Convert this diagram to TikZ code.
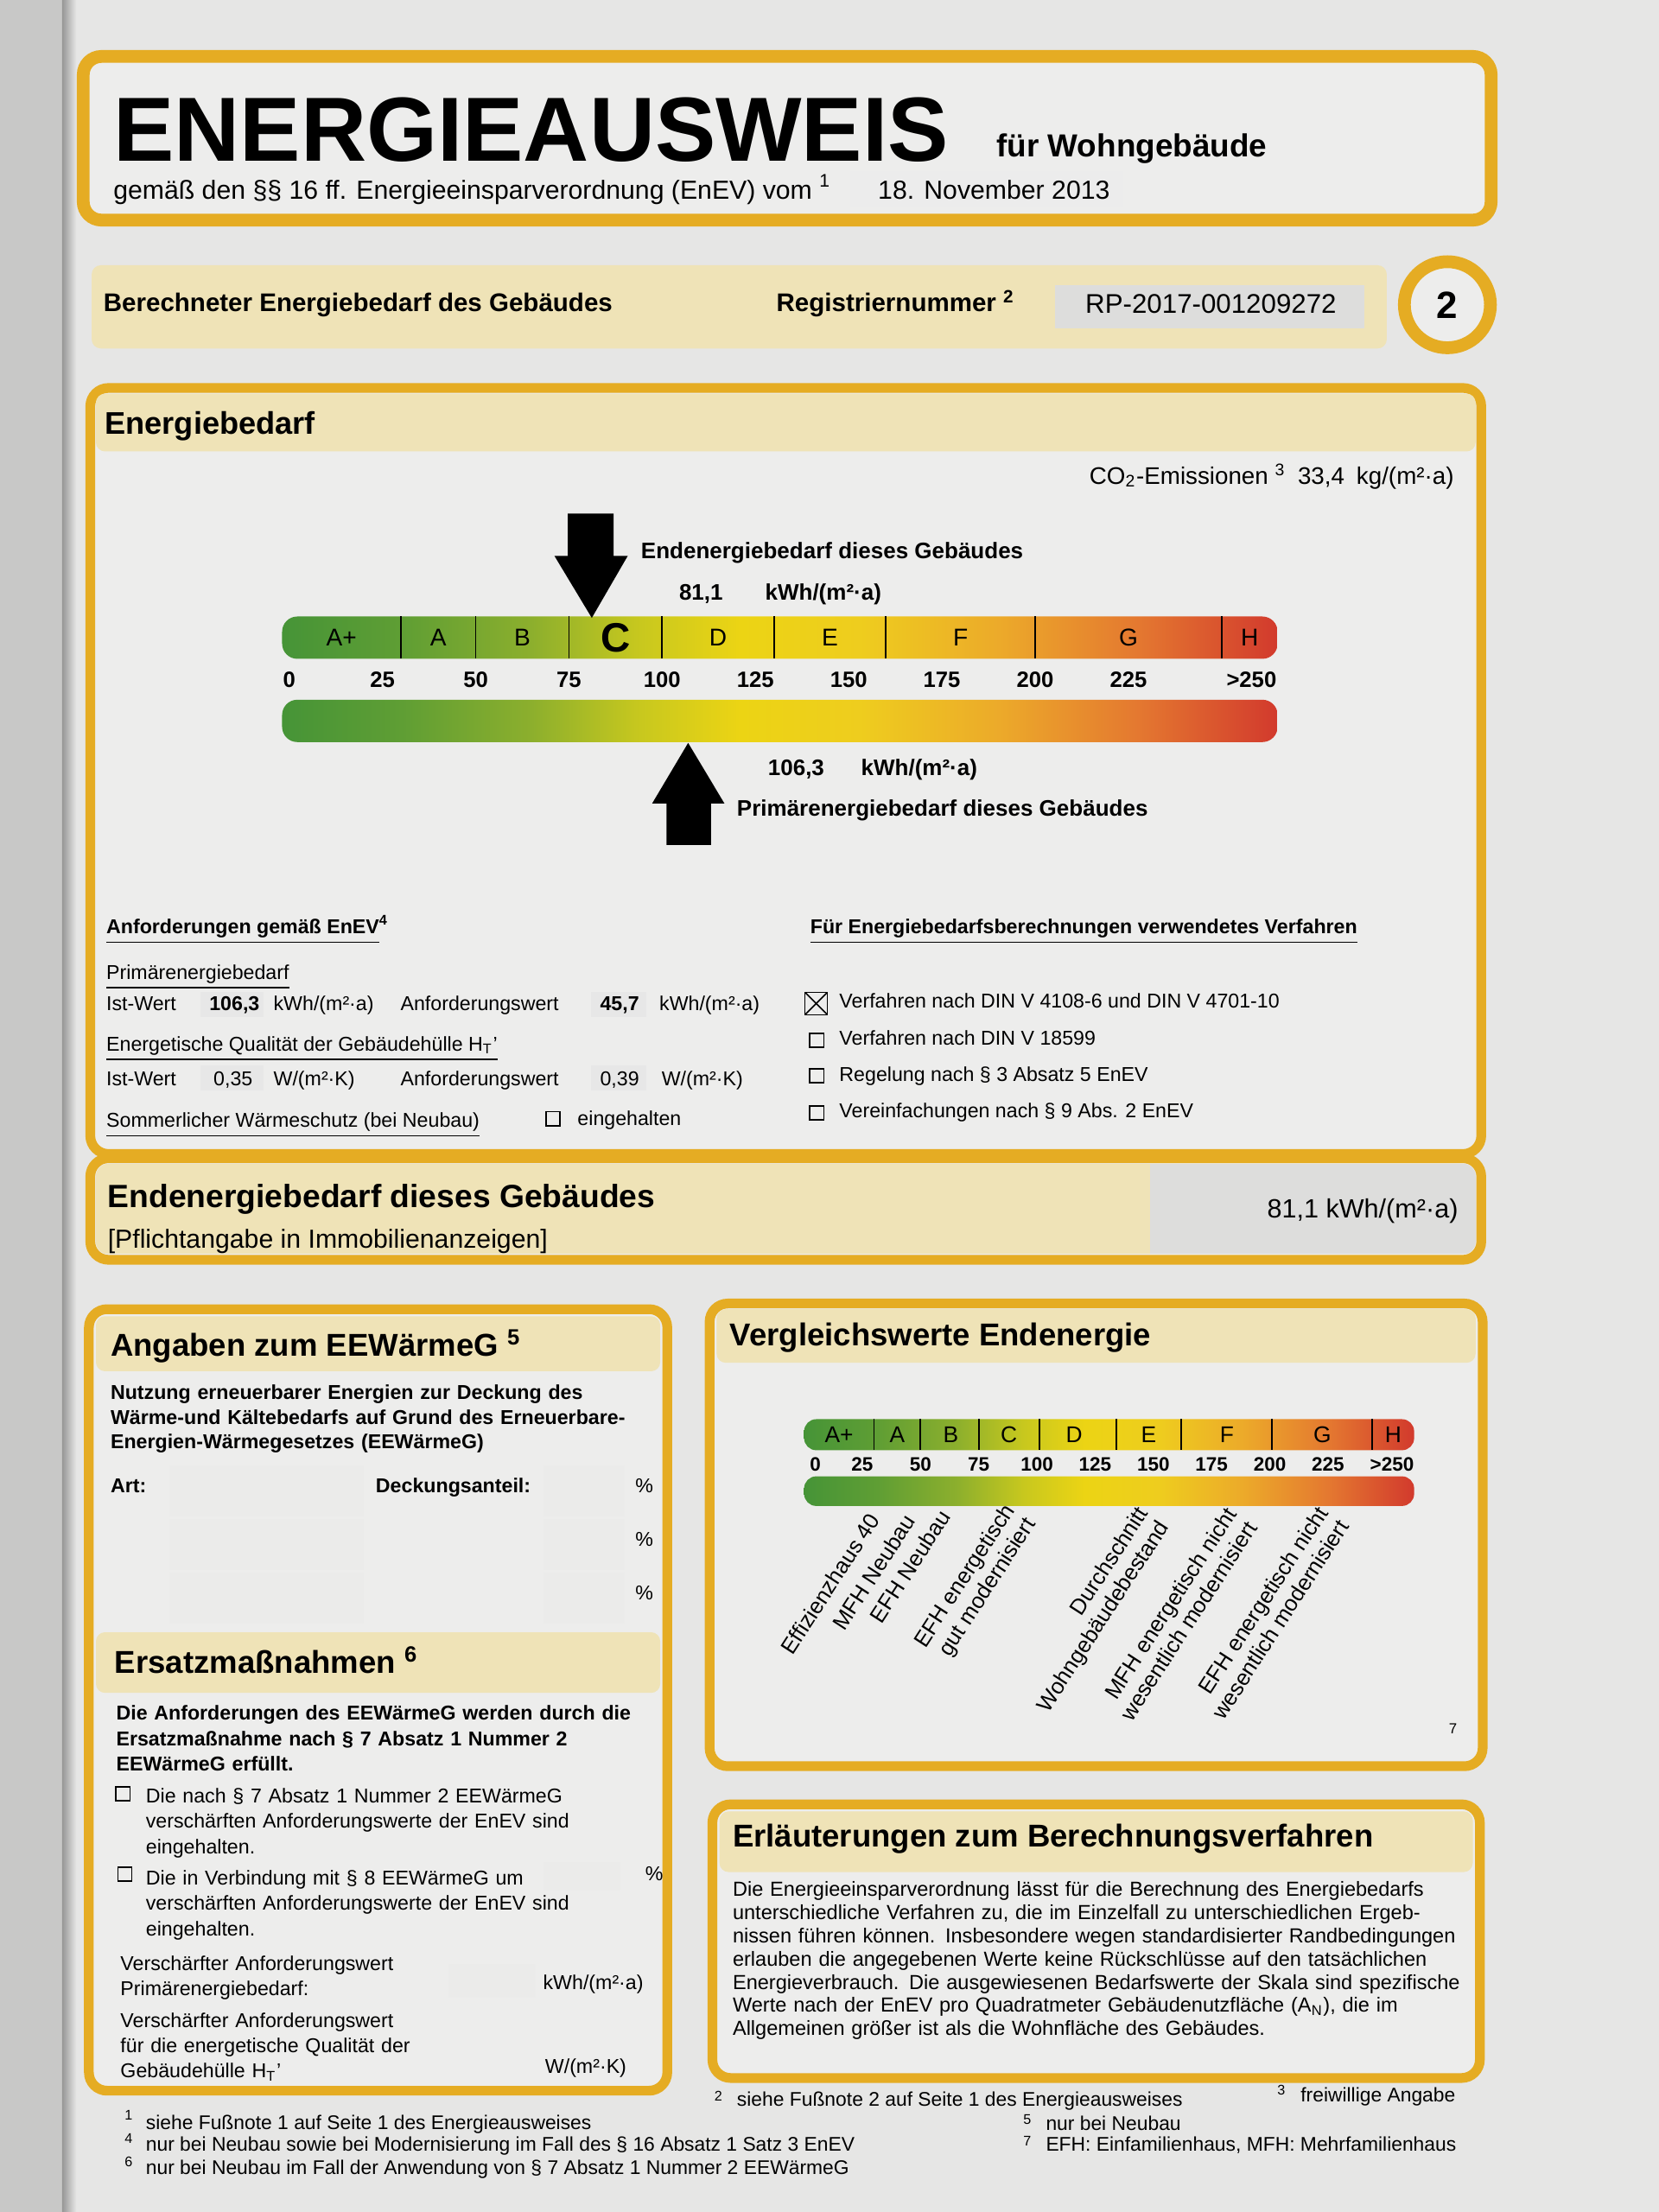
\documentclass[tikz,border=0pt]{standalone}
\usepackage{fontspec}
\setmainfont{Liberation Sans}
\usetikzlibrary{positioning}

\definecolor{enevgold}{RGB}{229,172,35}
\definecolor{enevband}{RGB}{239,227,183}
\definecolor{enevpage}{RGB}{230,230,229}
\definecolor{enevbox}{RGB}{237,237,236}
\definecolor{enevfield}{RGB}{221,221,220}
\definecolor{enevleaf}{RGB}{200,200,199}
\definecolor{scA}{RGB}{70,148,55}
\definecolor{scB}{RGB}{95,158,52}
\definecolor{scC}{RGB}{140,175,45}
\definecolor{scD}{RGB}{200,200,30}
\definecolor{scE}{RGB}{236,212,20}
\definecolor{scF}{RGB}{238,205,30}
\definecolor{scG}{RGB}{236,170,42}
\definecolor{scH}{RGB}{228,120,48}
\definecolor{scI}{RGB}{210,58,45}

\pgfdeclarehorizontalshading{enevscale}{100bp}{color(0bp)=(scA); color(25bp)=(scA);
  color(31bp)=(scB); color(37.5bp)=(scC); color(43bp)=(scD); color(48bp)=(scE);
  color(54bp)=(scF); color(61bp)=(scG); color(68bp)=(scH); color(75bp)=(scI); color(100bp)=(scI)}

\newcommand{\fsz}[2]{\fontsize{#1}{#2}\selectfont}

\tikzset{
  goldframe/.style={draw=enevgold, line width=3.2pt, rounded corners=6pt, fill=enevbox},
  headband/.style={fill=enevband, rounded corners=3pt},
  fieldbox/.style={fill=enevfield},
  txt/.style={inner sep=0pt, anchor=base west, font=\fsz{6.6}{8.2}},
  txtb/.style={txt, font=\bfseries\fsz{6.6}{8.2}},
  boxhead/.style={txt, font=\bfseries\fsz{10.4}{12}},
  chkbox/.style={draw, line width=0.45pt, minimum size=4.6pt, inner sep=0pt},
  crossed/.style={minimum size=7.4pt, path picture={\draw[line width=0.45pt]
    (path picture bounding box.north west) -- (path picture bounding box.south east)
    (path picture bounding box.north east) -- (path picture bounding box.south west);}},
  classlbl/.style={inner sep=0pt, font=\fsz{8}{9}},
  scalenum/.style={inner sep=0pt, anchor=base, font=\bfseries\fsz{7.3}{8}},
  cmplbl/.style={inner sep=0pt, anchor=east, rotate=57, align=right, font=\fsz{7.3}{8.2}},
  fnmark/.style={inner sep=0pt, anchor=base west, font=\fsz{4.6}{5}},
}

\begin{document}
\begin{tikzpicture}[x=0.016327cm, y=-0.016327cm]
\useasboundingbox (0,0) rectangle (1176,1568);
% Seite und Rand der Nachbarseite
\fill[enevpage] (0,0) rectangle (1176,1568);
\fill[enevleaf] (0,0) rectangle (44,1568);
\shade[left color=enevleaf!75!black, right color=enevpage] (44,0) rectangle (54,1568);

% Kopf
\draw[goldframe, line width=4.2pt] (59,40) rectangle (1057,156);
\fill[enevfield!55] (603,121) rectangle (796,147);
\node[txt, font=\bfseries\fsz{30}{31}] (title) at (80,114) {ENERGIEAUSWEIS};
\node[txt, font=\bfseries\fsz{10.5}{12}] (wohn) at (706,111) {für Wohngebäude};
\node[txt, font=\fsz{8.6}{10}] (enev) at (80,141) {gemäß den §§ 16 ff. Energieeinsparverordnung (EnEV) vom \textsuperscript{1}};
\node[txt, font=\fsz{8.6}{10}] (datum) at (622,141) {18. November 2013};

\fill[headband] (65,188) rectangle (983,247);
\fill[fieldbox] (748,202) rectangle (967,233);
\node[txt, font=\bfseries\fsz{8.4}{10}] (berechnet) at (73,221) {Berechneter Energiebedarf des Gebäudes};
\node[txt, font=\bfseries\fsz{8.4}{10}] (regnr) at (550,221) {Registriernummer \textsuperscript{2}};
\node[txt, font=\fsz{8.9}{10}] (regwert) at (769,222) {RP-2017-001209272};
\node[circle, draw=enevgold, line width=4.2pt, fill=enevbox, minimum size=0.996cm,
  inner sep=0pt, font=\bfseries\fsz{12.5}{13}] (seite) at (1026,216) {2};

% Energiebedarf
\draw[goldframe] (64,275) rectangle (1050,818);
\fill[headband] (68,279) rectangle (1046,320);
\node[boxhead, font=\bfseries\fsz{10.3}{12}] (ebhead) at (74,308) {Energiebedarf};
\node[txt, anchor=base east, font=\fsz{7.9}{9}] (co2) at (1031,343)
  {CO\textsubscript{2}-Emissionen \textsuperscript{3}\enspace 33,4\enspace kg/(m²·a)};

\begin{scope}[shift={(205,0)}, x=0.043168cm]
  \shade[shading=enevscale, rounded corners=5pt] (-1.9,437) rectangle (265,467);
  \foreach \v in {30,50,75,100,130,160,200,250}
    \draw[line width=0.5pt] (\v,437) -- (\v,467);
  \foreach \v/\k [count=\i] in {14/A+,40/A,62.5/B,115/D,145/E,180/F,225/G,257.5/H}
    \node[classlbl] (kl\i) at (\v,452) {\k};
  \node[classlbl, font=\bfseries\fsz{13.5}{14}] (klC) at (87.5,452) {C};
  \foreach \v in {0,25,...,225}
    \node[scalenum] (sk\v) at (\v,487) {\v};
  \node[scalenum] (sk250) at (258,487) {>250};
  \shade[shading=enevscale, rounded corners=5pt] (-1.9,496) rectangle (265,526);
\end{scope}

\fill (402.5,364) -- (435,364) -- (435,394) -- (445,394) -- (419.5,438)
  -- (393,394) -- (402.5,394) -- cycle;
\fill (472.5,599) -- (504,599) -- (504,569.5) -- (513.5,569.5) -- (487.8,526.6)
  -- (462.3,569.5) -- (472.5,569.5) -- cycle;
\node[txt, font=\bfseries\fsz{7.4}{9}] (endlbl) at (454,396) {Endenergiebedarf dieses Gebäudes};
\node[txt, font=\bfseries\fsz{7.4}{9}] (endwert) at (481,425.5) {81,1};
\node[txt, font=\bfseries\fsz{7.4}{9}] (endunit) at (542,425.5) {kWh/(m²·a)};
\node[txt, font=\bfseries\fsz{7.4}{9}] (primwert) at (544,550) {106,3};
\node[txt, font=\bfseries\fsz{7.4}{9}] (primunit) at (610,550) {kWh/(m²·a)};
\node[txt, font=\bfseries\fsz{7.4}{9}] (primlbl) at (522,578.5) {Primärenergiebedarf dieses Gebäudes};

% Anforderungen und Verfahren
\node[txtb] (anfhead) at (75,662) {\underline{Anforderungen gemäß EnEV}\textsuperscript{4}};
\node[txtb] (verfhead) at (574,662) {\underline{Für Energiebedarfsberechnungen verwendetes Verfahren}};
\node[txt] (primhead) at (75,694) {\underline{Primärenergiebedarf}};
\fill[enevfield!70] (142,703) rectangle (187,721);
\fill[enevfield!70] (419,703) rectangle (458,721);
\node[txt] (ist1) at (75,716.5) {Ist-Wert};
\node[txtb] (ist1w) at (148,716.5) {106,3};
\node[txt] (ist1e) at (193.5,716.5) {kWh/(m²·a)};
\node[txt] (anf1) at (283.5,716.5) {Anforderungswert};
\node[txtb] (anf1w) at (425,716.5) {45,7};
\node[txt] (anf1e) at (467,716.5) {kWh/(m²·a)};
\node[txt] (hthead) at (75,745) {\underline{Energetische Qualität der Gebäudehülle H\textsubscript{T}'}};
\fill[enevfield!70] (142,755) rectangle (187,773);
\fill[enevfield!70] (419,755) rectangle (458,773);
\node[txt] (ist2) at (75,769.5) {Ist-Wert};
\node[txt] (ist2w) at (151,769.5) {0,35};
\node[txt] (ist2e) at (193.5,769.5) {W/(m²·K)};
\node[txt] (anf2) at (283.5,769.5) {Anforderungswert};
\node[txt] (anf2w) at (425,769.5) {0,39};
\node[txt] (anf2e) at (468.6,769.5) {W/(m²·K)};
\node[txt] (sommer) at (75,799) {\underline{Sommerlicher Wärmeschutz (bei Neubau)}};
\node[chkbox] (cbsommer) at (392,793) {};
\node[txt] (eingeh) at (409,797.5) {eingehalten};
\node[chkbox, crossed] (cbv1) at (578.6,711.3) {};
\node[txt] (verf1) at (594.6,714.5) {Verfahren nach DIN V 4108-6 und DIN V 4701-10};
\node[chkbox] (cbv2) at (579,737.5) {};
\node[txt] (verf2) at (594.6,741) {Verfahren nach DIN V 18599};
\node[chkbox] (cbv3) at (579,762.5) {};
\node[txt] (verf3) at (594.6,766.5) {Regelung nach § 3 Absatz 5 EnEV};
\node[chkbox] (cbv4) at (579,789) {};
\node[txt] (verf4) at (594.6,792) {Vereinfachungen nach § 9 Abs. 2 EnEV};

% Endenergiebedarf
\draw[goldframe] (64,821) rectangle (1050,893);
\begin{scope}
  \clip[rounded corners=4pt] (68,825) rectangle (1046,889);
  \fill[enevband] (68,825) rectangle (815,889);
  \fill[fieldbox] (815,825) rectangle (1046,889);
\end{scope}
\node[txt, font=\bfseries\fsz{10.6}{12}] (endhead) at (76,856) {Endenergiebedarf dieses Gebäudes};
\node[txt, font=\fsz{8.6}{10}] (pflicht) at (76,885) {[Pflichtangabe in Immobilienanzeigen]};
\node[txt, anchor=base east, font=\fsz{8.7}{10}] (endbox) at (1034,863) {81,1 kWh/(m²·a)};

% EEWaermeG
\draw[goldframe] (63,928) rectangle (473,1482);
\fill[headband] (68,933) rectangle (468,972);
\node[boxhead] (eewhead) at (78,961) {Angaben zum EEWärmeG \textsuperscript{5}};
\node[txtb, text width=6.3cm, align=left, font=\bfseries\fsz{6.6}{8.1}] (eewtext) at (78,992)
  {Nutzung erneuerbarer Energien zur Deckung des\\Wärme-und Kältebedarfs auf Grund des Erneuerbare-\\Energien-Wärmegesetzes (EEWärmeG)};
\foreach \y in {1039,1077,1115} {
  \fill[enevfield!60] (120,\y) rectangle (258,\y+36);
  \fill[enevfield!60] (385,\y) rectangle (443,\y+36);
}
\node[txtb] (art) at (78,1058) {Art:};
\node[txtb] (deck) at (266,1058) {Deckungsanteil:};
\foreach \y [count=\i] in {1058,1096,1134}
  \node[txt] (proz\i) at (450,\y) {\%};

\fill[headband] (68,1157) rectangle (468,1200);
\node[boxhead] (ersatzhead) at (81,1186) {Ersatzmaßnahmen \textsuperscript{6}};
\node[txtb, text width=6.3cm, align=left, font=\bfseries\fsz{6.6}{8.5}] (ersatztext) at (82,1219)
  {Die Anforderungen des EEWärmeG werden durch die\\Ersatzmaßnahme nach § 7 Absatz 1 Nummer 2\\EEWärmeG erfüllt.};
\node[chkbox] (cbe1) at (87.2,1271.5) {};
\node[txt, text width=5.9cm, align=left, font=\fsz{6.6}{8.36}] (ersatz1) at (103,1278)
  {Die nach § 7 Absatz 1 Nummer 2 EEWärmeG\\verschärften Anforderungswerte der EnEV sind\\eingehalten.};
\node[chkbox] (cbe2) at (88.5,1328.5) {};
\fill[enevfield!60] (385,1320) rectangle (440,1340);
\node[txt, text width=5.9cm, align=left, font=\fsz{6.6}{8.36}] (ersatz2) at (103,1336)
  {\makebox[4.52cm][s]{Die in Verbindung mit § 8 EEWärmeG um}\\verschärften Anforderungswerte der EnEV sind\\eingehalten.};
\node[txt] (proz4) at (457,1333) {\%};
\fill[enevfield!60] (318,1392) rectangle (380,1416);
\node[txt, text width=5cm, align=left] (vprim) at (85,1397)
  {Verschärfter Anforderungswert\\Primärenergiebedarf:};
\node[txt] (vprime) at (384.6,1410) {kWh/(m²·a)};
\node[txt, text width=5cm, align=left, font=\fsz{6.6}{8.36}] (vht) at (85,1437)
  {Verschärfter Anforderungswert\\für die energetische Qualität der\\Gebäudehülle H\textsubscript{T}'};
\node[txt] (vhte) at (386,1469.5) {W/(m²·K)};

% Vergleichswerte
\draw[goldframe] (503,924) rectangle (1051,1252);
\fill[headband] (508,928) rectangle (1046,966);
\node[boxhead] (vglhead) at (517,954) {Vergleichswerte Endenergie};
\begin{scope}[shift={(570,0)}, x=0.02694cm]
  \shade[shading=enevscale, rounded corners=4pt] (0,1006) rectangle (262,1028);
  \foreach \v in {30,50,75,101,134,162,201,244}
    \draw[line width=0.5pt] (\v,1006) -- (\v,1028);
  \foreach \v/\k [count=\i] in {15/A+,40/A,63/B,88/C,116/D,148/E,181.6/F,222.6/G,253/H}
    \node[classlbl, font=\fsz{7.5}{8}] (vk\i) at (\v,1017) {\k};
  \foreach \v in {25,50,...,225}
    \node[scalenum, font=\bfseries\fsz{6.4}{7}] (vs\v) at (\v,1043) {\v};
  \node[scalenum, font=\bfseries\fsz{6.4}{7}] (vs0) at (4.8,1043) {0};
  \node[scalenum, font=\bfseries\fsz{6.4}{7}] (vs250) at (252.5,1043) {>250};
  \shade[shading=enevscale, rounded corners=4pt] (0,1046.5) rectangle (262,1067.5);
\end{scope}
\foreach \x/\y/\t [count=\i] in {620/1074/{Effizienzhaus 40}, 645/1075/{MFH Neubau},
    670/1072/{EFH Neubau}, 724/1073/{EFH energetisch\\gut modernisiert},
    818.5/1075/{Durchschnitt\\Wohngebäudebestand},
    880/1075/{MFH energetisch nicht\\wesentlich modernisiert},
    945/1074/{EFH energetisch nicht\\wesentlich modernisiert}}
  \node[cmplbl] (vgl\i) at (\x,\y) {\t};
\node[txt, anchor=base, font=\fsz{4.8}{5}] (vglfn) at (1030,1229) {7};

% Erlaeuterungen
\draw[goldframe] (505,1279) rectangle (1049,1473);
\fill[headband] (510,1284) rectangle (1044,1327);
\node[boxhead] (erlhead) at (519,1309) {Erläuterungen zum Berechnungsverfahren};
\node[txt, text width=8.39cm, align=left, font=\fsz{6.7}{7.66}] (erltext) at (519,1344)
  {\makebox[8.39cm][s]{Die Energieeinsparverordnung lässt für die Berechnung des Energiebedarfs}\\
   \makebox[8.39cm][s]{unterschiedliche Verfahren zu, die im Einzelfall zu unterschiedlichen Ergeb-}\\
   \makebox[8.39cm][s]{nissen führen können. Insbesondere wegen standardisierter Randbedingungen}\\
   \makebox[8.39cm][s]{erlauben die angegebenen Werte keine Rückschlüsse auf den tatsächlichen}\\
   \makebox[8.39cm][s]{Energieverbrauch. Die ausgewiesenen Bedarfswerte der Skala sind spezifische}\\
   \makebox[8.39cm][s]{Werte nach der EnEV pro Quadratmeter Gebäudenutzfläche (A\textsubscript{N}), die im}\\
   Allgemeinen größer ist als die Wohnfläche des Gebäudes.};

% Fussnoten
\node[fnmark] (fn1m) at (88,1503) {1};
\node[txt, font=\fsz{6.5}{8}] (fn1) at (103,1509.5) {siehe Fußnote 1 auf Seite 1 des Energieausweises};
\node[fnmark] (fn4m) at (88,1519) {4};
\node[txt, font=\fsz{6.5}{8}] (fn4) at (103,1524.5) {nur bei Neubau sowie bei Modernisierung im Fall des § 16 Absatz 1 Satz 3 EnEV};
\node[fnmark] (fn6m) at (88,1536) {6};
\node[txt, font=\fsz{6.5}{8}] (fn6) at (103,1541.5) {nur bei Neubau im Fall der Anwendung von § 7 Absatz 1 Nummer 2 EEWärmeG};
\node[fnmark] (fn2m) at (506,1489) {2};
\node[txt, font=\fsz{6.5}{8}] (fn2) at (522,1493) {siehe Fußnote 2 auf Seite 1 des Energieausweises};
\node[fnmark] (fn3m) at (905,1485) {3};
\node[txt, font=\fsz{6.5}{8}] (fn3) at (921.6,1490) {freiwillige Angabe};
\node[fnmark] (fn5m) at (725,1506) {5};
\node[txt, font=\fsz{6.5}{8}] (fn5) at (741,1510) {nur bei Neubau};
\node[fnmark] (fn7m) at (725,1521) {7};
\node[txt, font=\fsz{6.5}{8}] (fn7) at (741,1525) {EFH: Einfamilienhaus, MFH: Mehrfamilienhaus};
\end{tikzpicture}
\end{document}
